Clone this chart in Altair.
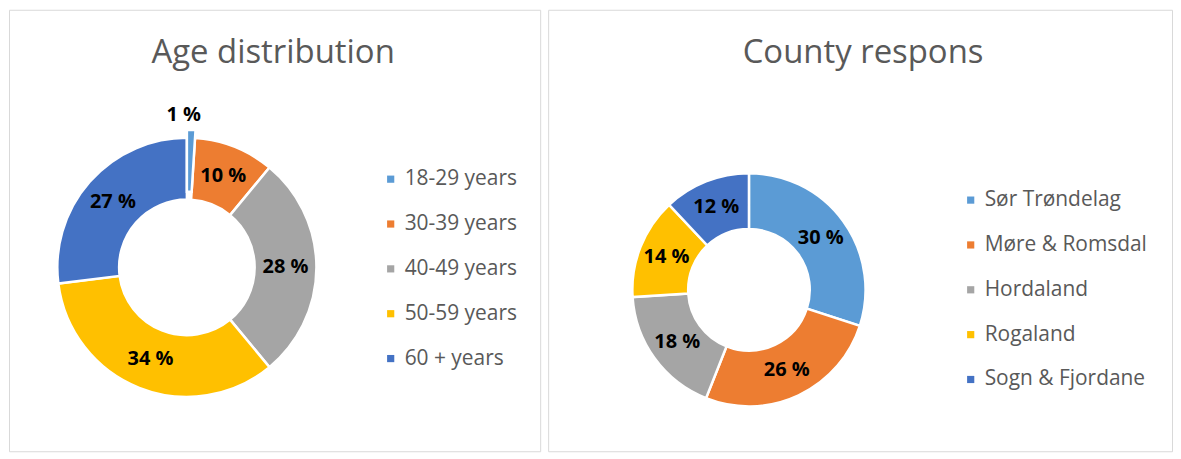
import altair as alt
import pandas as pd

# ---- data ----
titles = ["Age distribution", "County respons"]
age_cats = ["18-29 years", "30-39 years", "40-49 years", "50-59 years", "60 + years"]
age_vals = [1, 10, 28, 34, 27]
county_cats = ["Sør Trøndelag", "Møre & Romsdal", "Hordaland", "Rogaland", "Sogn & Fjordane"]
county_vals = [30, 26, 18, 14, 12]
palette = ["#5B9BD5", "#ED7D31", "#A5A5A5", "#FFC000", "#4472C4"]

FONT = "Open Sans"


def panel(title, cats, vals, w, h, cx, cy, r_out, r_in, lx, ly, tx, ty):
    df = pd.DataFrame({
        "cat": cats,
        "v": vals,
        "i": list(range(len(cats))),
        "lab": [f"{v} %" for v in vals],
    })
    base = (
        alt.Chart(df)
        .transform_window(cum="sum(v)", sort=[alt.SortField("i")], frame=[None, 0])
        .transform_joinaggregate(tot="sum(v)")
        .transform_calculate(
            t0="(datum.cum - datum.v) / datum.tot * 2 * PI",
            t1="datum.cum / datum.tot * 2 * PI",
            mid="(datum.cum - datum.v / 2) / datum.tot * 2 * PI",
            small="datum.v / datum.tot < 0.02",
        )
    )
    color = alt.Color("cat:N", scale=alt.Scale(domain=cats, range=palette), legend=None)

    def arc_layer(filt, ro, ri, sw):
        return (
            base.transform_filter(filt)
            .mark_arc(stroke="white", strokeWidth=sw)
            .encode(
                theta=alt.Theta("t0:Q", scale=None),
                theta2=alt.Theta2("t1:Q"),
                color=color,
                radius=alt.value(ro),
                radius2=alt.value(ri),
                x=alt.value(cx),
                y=alt.value(cy),
            )
        )

    arcs = arc_layer("!datum.small", r_out, r_in, 2.5)
    exploded = arc_layer("datum.small", r_out + 8, r_in + 8, 2.5)

    labels = (
        base.transform_filter("!datum.small")
        .mark_text(font=FONT, fontSize=20, fontWeight="bold", color="#000000",
                   align="center", baseline="middle")
        .encode(
            theta=alt.Theta("mid:Q", scale=None, stack=False),
            radius=alt.value((r_out + r_in) / 2),
            text="lab:N",
            x=alt.value(cx),
            y=alt.value(cy),
        )
    )

    small_labels = (
        base.transform_filter("datum.small")
        .mark_text(font=FONT, fontSize=20, fontWeight="bold", color="#000000",
                   align="center", baseline="middle", dx=-8)
        .encode(
            theta=alt.Theta("mid:Q", scale=None, stack=False),
            radius=alt.value(r_out + 23),
            text="lab:N",
            x=alt.value(cx),
            y=alt.value(cy),
        )
    )

    yleg = alt.Y("cat:N", scale=alt.Scale(domain=cats, range=[ly, ly + 45 * (len(cats) - 1)], padding=0), axis=None)
    leg_sym = base.mark_point(shape="square", filled=True, size=52, opacity=1).encode(
        x=alt.value(lx), y=yleg, color=color
    )
    leg_txt = base.mark_text(font=FONT, fontSize=21, color="#595959", align="left", baseline="middle").encode(
        x=alt.value(lx + 14), y=yleg, text="cat:N"
    )

    ttl = alt.Chart(pd.DataFrame({"t": [title]})).mark_text(
        font=FONT, fontSize=33, color="#595959", align="center", baseline="alphabetic"
    ).encode(text="t:N", x=alt.value(tx), y=alt.value(ty))

    return alt.layer(arcs, exploded, labels, small_labels, leg_sym, leg_txt, ttl).properties(width=w, height=h)


left = panel(titles[0], age_cats, age_vals, 533, 443, 178.5, 258.5, 130, 68, 383, 170, 265, 53)
right = panel(titles[1], county_cats, county_vals, 626, 443, 201.5, 281, 117, 61, 424, 191, 316, 53)

chart = (
    alt.hconcat(left, right, spacing=6)
    .resolve_scale(color="independent", y="independent")
    .properties(padding=0, background="white")
    .configure_view(stroke="#d9d9d9", strokeWidth=1)
)

chart.save("out.html", embed_options={"renderer": "svg", "actions": False})
